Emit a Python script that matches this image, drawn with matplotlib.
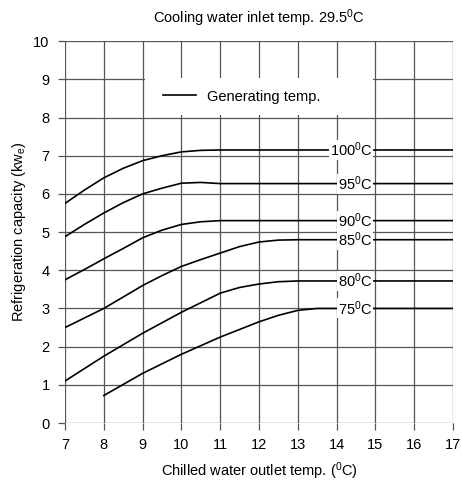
import matplotlib
matplotlib.use("Agg")
import matplotlib.pyplot as plt
from matplotlib.patches import Rectangle

plt.rcParams['font.family'] = ['Liberation Sans', 'DejaVu Sans']
plt.rcParams['mathtext.fontset'] = 'custom'
plt.rcParams['mathtext.rm'] = 'Liberation Sans'
plt.rcParams['mathtext.it'] = 'Liberation Sans:italic'

# generating temperature curves: (x, capacity)
x_100 = [7, 7.5, 8, 8.5, 9, 9.5, 10, 10.5, 11, 12, 13, 17]
y_100 = [5.75, 6.1, 6.42, 6.67, 6.87, 7.0, 7.1, 7.14, 7.15, 7.15, 7.15, 7.15]
x_95 = [7, 7.5, 8, 8.5, 9, 9.5, 10, 10.5, 11, 12, 17]
y_95 = [4.88, 5.2, 5.5, 5.77, 6.0, 6.15, 6.28, 6.3, 6.27, 6.27, 6.27]
x_90 = [7, 7.5, 8, 8.5, 9, 9.5, 10, 10.5, 11, 12, 17]
y_90 = [3.75, 4.02, 4.3, 4.57, 4.85, 5.05, 5.2, 5.27, 5.3, 5.3, 5.3]
x_85 = [7, 7.5, 8, 8.5, 9, 9.5, 10, 10.5, 11, 11.5, 12, 12.5, 13, 17]
y_85 = [2.5, 2.75, 3.0, 3.3, 3.6, 3.86, 4.1, 4.28, 4.45, 4.62, 4.74, 4.79, 4.8, 4.8]
x_80 = [7, 8, 9, 10, 10.5, 11, 11.5, 12, 12.5, 13, 17]
y_80 = [1.1, 1.75, 2.35, 2.9, 3.15, 3.4, 3.55, 3.64, 3.7, 3.72, 3.72]
x_75 = [8, 9, 10, 11, 12, 12.5, 13, 13.5, 14, 17]
y_75 = [0.72, 1.3, 1.8, 2.25, 2.65, 2.82, 2.95, 3.0, 3.0, 3.0]

curves = [(x_100, y_100, '100'), (x_95, y_95, '95'), (x_90, y_90, '90'),
          (x_85, y_85, '85'), (x_80, y_80, '80'), (x_75, y_75, '75')]

fig = plt.figure(figsize=(4.62, 4.84), dpi=100)
ax = fig.add_axes([0.1407, 0.126, 0.8398, 0.789])

for xs, ys, lab in curves:
    ax.plot(xs, ys, color='black', lw=1.2, zorder=3,
            label='Generating temp.' if lab == '100' else None)
    ax.text(14.93, ys[-1], lab + r'$^{\mathregular{0}}$C', ha='right', va='center',
            fontsize=10.5, zorder=4,
            bbox=dict(facecolor='white', edgecolor='none', pad=0.5))

# white patch behind legend
ax.add_patch(Rectangle((0.205, 0.8065), 0.588, 0.097, transform=ax.transAxes,
                       facecolor='white', edgecolor='none', zorder=2))
ax.legend(loc='center left', bbox_to_anchor=(0.22, 0.855), frameon=False,
          fontsize=10.5, handlelength=2.2, handletextpad=0.8).set_zorder(5)

ax.set_xlim(7, 17)
ax.set_ylim(0, 10)
ax.set_xticks(range(7, 18))
ax.set_yticks(range(0, 11))
ax.grid(True, color='#555555', lw=0.9, zorder=1)
ax.set_axisbelow(True)
for s in ax.spines.values():
    s.set_visible(False)
ax.tick_params(direction='out', length=5, width=0.9, color='#555555',
               labelsize=10.5, pad=6)

ax.set_xlabel(r'Chilled water outlet temp. ($^{\mathregular{0}}$C)', fontsize=10.5, labelpad=6)
ax.set_ylabel(r'Refrigeration capacity (kw$_{\mathregular{e}}$)', fontsize=10.5, labelpad=4)
ax.set_title(r'Cooling water inlet temp. 29.5$^{\mathregular{0}}$C', fontsize=10.5, pad=13)

fig.savefig('out.png', dpi=100)
